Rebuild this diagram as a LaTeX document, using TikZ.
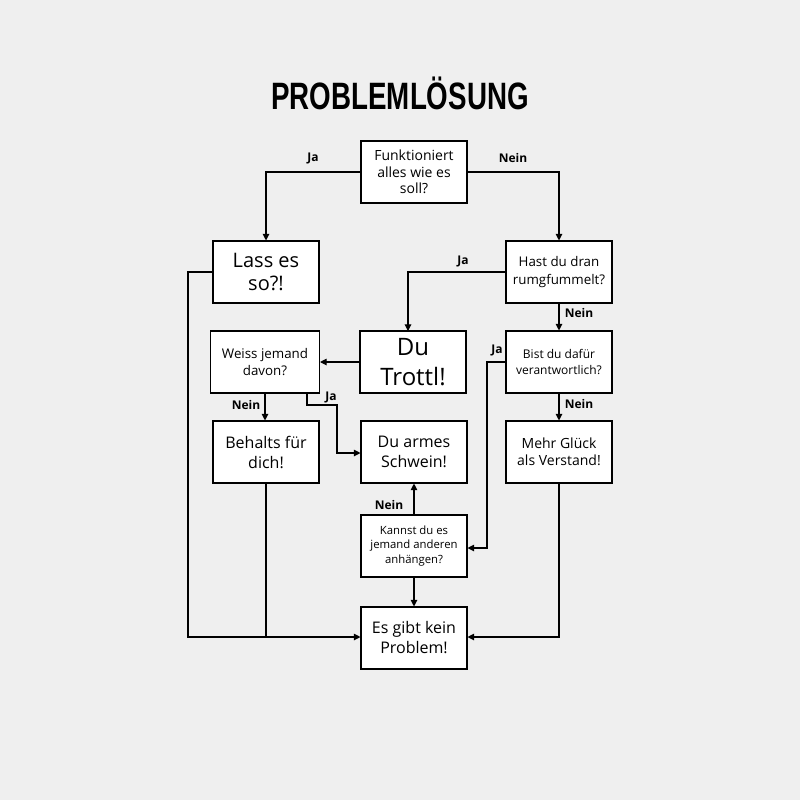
\documentclass[tikz,border=0pt]{standalone}
\usepackage{fontspec}
\setmainfont{Open Sans}
\newfontfamily\titlefont{Liberation Sans}
\usetikzlibrary{arrows.meta, positioning}
\definecolor{bggray}{HTML}{EFEFEF}
\tikzset{
  box/.style={rectangle, draw=black, thick, fill=white, minimum width=79.5pt, minimum height=46.5pt, inner sep=1pt, align=center, font=\fontsize{10.5}{12.5}\selectfont},
  arrow/.style={-{Triangle[length=5pt,width=5pt]}, thick},
  line/.style={thick},
  lbl/.style={font=\bfseries\fontsize{9}{10}\selectfont}
}
\begin{document}
\begin{tikzpicture}[x=0.75pt, y=-0.75pt]
\fill[bggray] (0,0) rectangle (800,800);
\useasboundingbox (0,0) rectangle (800,800);

% title
\node (title) at (400,93) {\titlefont\bfseries\fontsize{26}{28}\selectfont\scalebox{0.8}[1.1]{PROBLEMLÖSUNG}};

% boxes
\node[box] (works) at (414,172) {Funktioniert\\alles wie es\\soll?};
\node[box, font=\fontsize{15}{17}\selectfont] (leave) at (266,272) {Lass es\\so?!};
\node[box, font=\fontsize{10}{13}\selectfont] (touched) at (559,272) {Hast du dran\\rumgfummelt?};
\node[box, font=\fontsize{18}{22}\selectfont] (idiot) at (413,362) {Du\\Trottl!};
\node[box, minimum width=81.75pt, font=\fontsize{10}{13}\selectfont] (knows) at (265,362) {Weiss jemand\\davon?};
\node[box, font=\fontsize{9}{12}\selectfont] (resp) at (559,362) {Bist du dafür\\verantwortlich?};
\node[box, font=\fontsize{12}{15}\selectfont] (keep) at (266,452) {Behalts für\\dich!};
\node[box, font=\fontsize{12}{15}\selectfont] (poor) at (414,452) {Du armes\\Schwein!};
\node[box] (luck) at (559,452) {Mehr Glück\\als Verstand!};
\node[box, font=\fontsize{8.5}{11}\selectfont] (blame) at (414,546) {Kannst du es\\jemand anderen\\anhängen?};
\node[box, font=\fontsize{12}{15}\selectfont] (noprob) at (414,638) {Es gibt kein\\Problem!};

% connectors
\draw[arrow] (works.west) -| (leave.north);
\node[lbl] (ja1) at (313,158) {Ja};
\draw[arrow] (works.east) -| (touched.north);
\node[lbl] (nein1) at (513,158) {Nein};
\draw[arrow] (touched.west) -| (408,331);
\node[lbl] (ja2) at (463,261) {Ja};
\draw[arrow] (touched) -- (resp);
\node[lbl] (nein2) at (579,313) {Nein};
\draw[arrow] (idiot) -- (knows);
\draw[arrow] (265,393) -- (keep.north -| 265,0);
\node[lbl] (nein3) at (246,405) {Nein};
\draw[arrow] (307,393) -- (307,405) -- (337,405) -- (337,453) -- (poor.west |- 0,453);
\node[lbl] (ja3) at (331,397) {Ja};
\draw[arrow] (resp.west) -- (487,362) -- (487,548) -- (blame.east |- 0,548);
\node[lbl] (ja4) at (497,350) {Ja};
\draw[arrow] (resp) -- (luck);
\node[lbl] (nein4) at (579,404) {Nein};
\draw[arrow] (blame) -- (poor);
\node[lbl] (nein5) at (389,505) {Nein};
\draw[arrow] (blame) -- (noprob);
\draw[arrow] (leave.west) -- (188,272) -- (188,637) -- (noprob.west |- 0,637);
\draw[line] (keep.south) -- (266,637);
\draw[arrow] (luck.south) -- (559,637) -- (noprob.east |- 0,637);
\end{tikzpicture}
\end{document}
